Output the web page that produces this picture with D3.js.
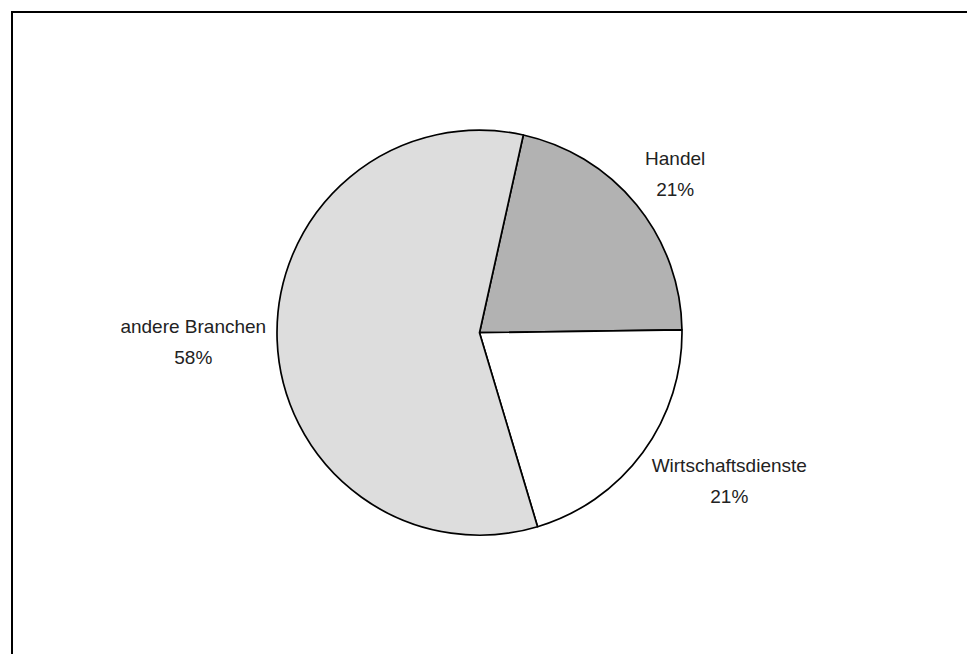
<!DOCTYPE html>
<html>
<head>
<meta charset="utf-8">
<script src="https://cdn.jsdelivr.net/npm/d3@7/dist/d3.min.js"></script>
<style>
  html, body { margin: 0; padding: 0; background: #fff; overflow: hidden; }
  svg { display: block; }
  text { font-family: "Liberation Sans", Arial, sans-serif; fill: #222; }
</style>
</head>
<body>
<svg id="chart" width="967" height="654"></svg>
<script>
// Branch shares (percent)
const categories = ["Handel", "Wirtschaftsdienste", "andere Branchen"];
const shares = [21.3, 20.6, 58.1];
const shareLabels = ["21%", "21%", "58%"];
const fills = ["#b2b2b2", "#ffffff", "#dddddd"];

const width = 967, height = 654;
const cx = 479.5, cy = 332.7, radius = 202.5;
const firstAngle = 12.5 * Math.PI / 180;
const fontSize = 19, lineGap = 31, labelGap = 11;

const svg = d3.select("#chart");

// outer frame (runs off the right and bottom edges)
svg.append("path")
  .attr("d", `M12,${height + 10} V12 H${width + 10}`)
  .attr("fill", "none").attr("stroke", "#000").attr("stroke-width", 2);

const data = categories.map((c, i) => ({ name: c, value: shares[i], label: shareLabels[i], fill: fills[i] }));

const pie = d3.pie()
  .value(d => d.value)
  .sort(null)
  .startAngle(firstAngle)
  .endAngle(firstAngle + 2 * Math.PI);

const arc = d3.arc().innerRadius(0).outerRadius(radius);

const g = svg.append("g").attr("transform", `translate(${cx},${cy})`);

const arcs = pie(data);

g.selectAll("path.slice")
  .data(arcs)
  .join("path")
  .attr("class", "slice")
  .attr("d", arc)
  .attr("fill", d => d.data.fill)
  .attr("stroke", "#000")
  .attr("stroke-width", 1.7)
  .attr("stroke-linejoin", "round");

// labels placed outside each slice, box pushed away from the pie
arcs.forEach(a => {
  const mid = (a.startAngle + a.endAngle) / 2;
  const s = Math.sin(mid), c = -Math.cos(mid);
  const px = (radius + labelGap) * s;
  const py = (radius + labelGap) * c;

  const t = g.append("text").attr("text-anchor", "middle").style("font-size", fontSize + "px");
  const l1 = t.append("tspan").text(a.data.name);
  const l2 = t.append("tspan").text(a.data.label);

  const w = Math.max(l1.node().getComputedTextLength(), l2.node().getComputedTextLength());
  const h = lineGap + fontSize;
  const boxCx = px + Math.sign(s) * w / 2;
  const boxCy = py + c * h * 0.75;

  // baselines: first line above the box centre, second below
  const b1 = boxCy - lineGap / 2 + fontSize * 0.35;
  l1.attr("x", boxCx).attr("y", b1);
  l2.attr("x", boxCx).attr("y", b1 + lineGap);
});
</script>
</body>
</html>
